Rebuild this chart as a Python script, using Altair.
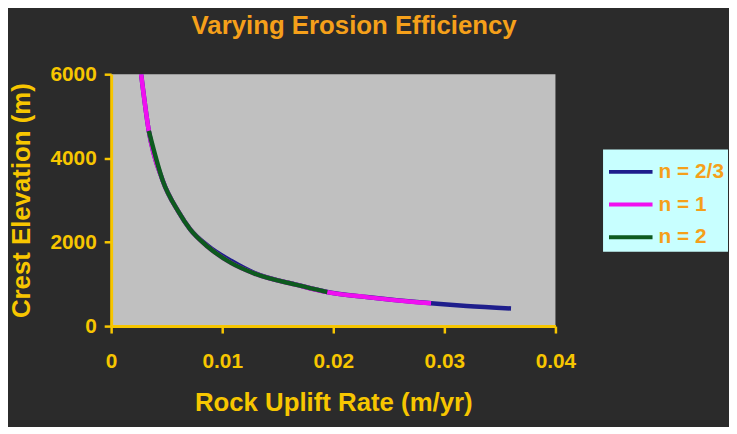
import altair as alt
import pandas as pd

series_names = ["n = 2/3", "n = 1", "n = 2"]
series_colors = ["#1e1e8c", "#f010f0", "#0d5a1f"]

blue_u = [0.0027, 0.00339, 0.00464, 0.00607, 0.00710, 0.0087, 0.01083, 0.01292, 0.01679, 0.01946, 0.0230, 0.0275, 0.0288, 0.0320, 0.0360]
blue_h = [6000, 4650, 3470, 2720, 2310, 1915, 1550, 1262, 980, 812, 692, 572, 545, 480, 420]

mag_u = [0.0027, 0.00339, 0.00464, 0.00607, 0.00710, 0.0087, 0.01083, 0.01292, 0.01679, 0.01946, 0.0230, 0.0275, 0.0288]
mag_h = [6000, 4650, 3470, 2720, 2310, 1890, 1500, 1250, 975, 810, 690, 570, 543]

grn_u = [0.00339, 0.00464, 0.00607, 0.00710, 0.0087, 0.01083, 0.01292, 0.01679, 0.01946]
grn_h = [4650, 3470, 2720, 2310, 1890, 1500, 1250, 975, 810]

FONT = "Liberation Sans"
YELLOW = "#f7c600"
ORANGE = "#f5a01a"
BG = "#2b2b2b"

def frame(u, h, name):
    return pd.DataFrame({"u": u, "h": h, "series": name, "i": range(len(u))})

frames = [frame(blue_u, blue_h, series_names[0]),
          frame(mag_u, mag_h, series_names[1]),
          frame(grn_u, grn_h, series_names[2])]

color = alt.Color(
    "series:N",
    scale=alt.Scale(domain=series_names, range=series_colors),
    legend=alt.Legend(
        title=None,
        orient="none",
        legendX=496,
        legendY=76,
        fillColor="#c8ffff",
        padding=4,
        symbolType="M-1,0L1.66,0",
        symbolSize=1089,
        symbolStrokeWidth=4,
        labelFont=FONT,
        labelFontSize=21,
        labelFontWeight="bold",
        labelColor=ORANGE,
        labelOffset=15,
        rowPadding=4,
        labelLimit=200,
    ),
)

x = alt.X(
    "u:Q",
    scale=alt.Scale(domain=[0, 0.04], nice=False),
    axis=alt.Axis(
        title="Rock Uplift Rate (m/yr)",
        values=[0, 0.01, 0.02, 0.03, 0.04],
        format="~g",
        grid=False,
        labelPadding=18,
        titlePadding=18,
        labelFlush=False,
    ),
)
y = alt.Y(
    "h:Q",
    scale=alt.Scale(domain=[0, 6000], nice=False),
    axis=alt.Axis(
        title="Crest Elevation (m)",
        values=[0, 2000, 4000, 6000],
        format="d",
        grid=False,
        labelPadding=8,
        titlePadding=16,
        labelFlush=False,
    ),
)

layers = [
    alt.Chart(f).mark_line(strokeWidth=4.5, clip=True, interpolate="monotone").encode(
        x=x, y=y, color=color, order="i:Q"
    )
    for f in frames
]

chart = (
    alt.layer(*layers)
    .properties(
        width=448,
        height=254,
        background=BG,
        padding={"left": 104, "top": 65, "right": 175, "bottom": 100},
        autosize=alt.AutoSizeParams(type="none"),
        title=alt.TitleParams(
            "Varying Erosion Efficiency",
            font=FONT,
            fontSize=26,
            fontWeight="bold",
            color=ORANGE,
            anchor="middle",
            dx=21,
            offset=25,
        ),
    )
    .configure_view(fill="#c0c0c0", stroke=None)
    .configure_axis(
        domainColor=YELLOW,
        domainWidth=3,
        tickColor=YELLOW,
        tickWidth=2.5,
        tickSize=7,
        labelColor=YELLOW,
        labelFont=FONT,
        labelFontSize=21,
        labelFontWeight="bold",
        titleColor=YELLOW,
        titleFont=FONT,
        titleFontSize=26,
        titleFontWeight="bold",
    )
)

chart.save("out.html", embed_options={"renderer": "svg", "actions": False})
